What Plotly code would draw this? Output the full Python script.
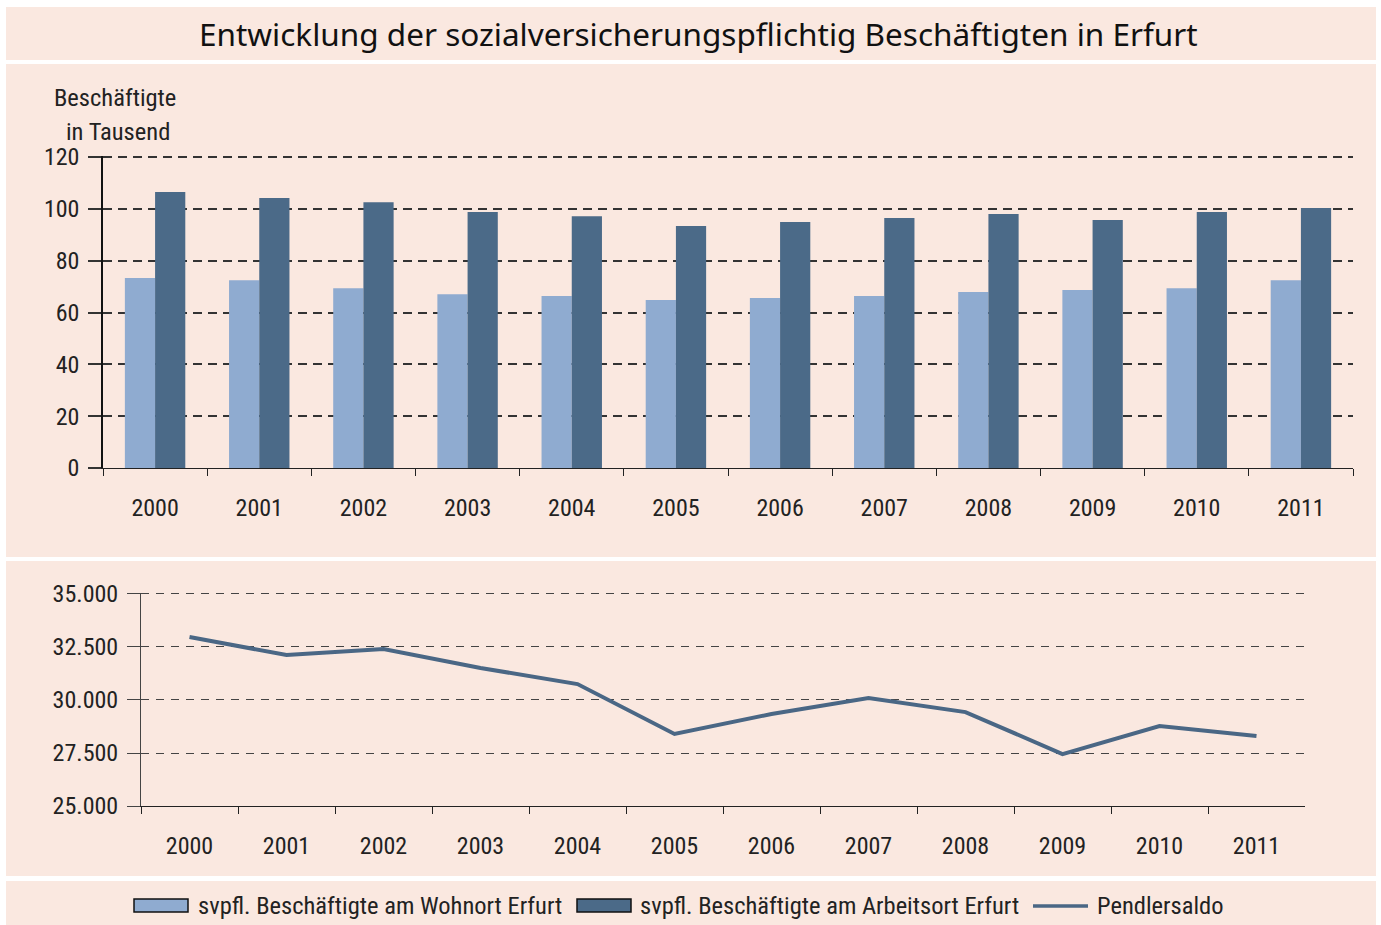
import plotly.graph_objects as go

years = ["2000", "2001", "2002", "2003", "2004", "2005", "2006", "2007", "2008", "2009", "2010", "2011"]
wohnort = [73.3, 72.5, 69.4, 67.1, 66.4, 64.8, 65.6, 66.4, 67.9, 68.7, 69.4, 72.5]
arbeitsort = [106.5, 104.2, 102.6, 98.8, 97.2, 93.4, 94.9, 96.5, 98.0, 95.7, 98.8, 100.3]
pendlersaldo = [32970, 32120, 32400, 31510, 30750, 28400, 29340, 30090, 29430, 27450, 28770, 28300]
legend_names = ["svpfl. Beschäftigte am Wohnort Erfurt", "svpfl. Beschäftigte am Arbeitsort Erfurt", "Pendlersaldo"]

W, H = 1381, 925
PINK = "#FAE8E0"
LIGHT = "#8FABD0"
DARK = "#4B6A88"
LINE = "#4A6785"
FONT = "Liberation Sans Narrow, Roboto Condensed, DejaVu Sans Condensed, Roboto, sans-serif"

def px(x):
    return x / W

def py(y):
    return 1 - y / H

fig = go.Figure()
fig.add_trace(go.Bar(x=years, y=wohnort, name=legend_names[0],
                     marker=dict(color=LIGHT, line=dict(width=0)), xaxis="x", yaxis="y"))
fig.add_trace(go.Bar(x=years, y=arbeitsort, name=legend_names[1],
                     marker=dict(color=DARK, line=dict(width=0)), xaxis="x", yaxis="y"))
fig.add_trace(go.Scatter(x=years, y=pendlersaldo, name=legend_names[2], mode="lines",
                         line=dict(color=LINE, width=4), xaxis="x2", yaxis="y2"))

# background panels
panels = [(6, 7, 1376, 60), (6, 64, 1376, 557), (6, 561, 1376, 876), (6, 881, 1376, 925)]
shapes = []
for x0, y0, x1, y1 in panels:
    shapes.append(dict(type="rect", xref="paper", yref="paper", x0=px(x0), x1=px(x1),
                       y0=py(y1), y1=py(y0), fillcolor=PINK, line=dict(width=0), layer="below"))

# manual legend keys
shapes.append(dict(type="rect", xref="paper", yref="paper", x0=px(134), x1=px(188), y0=py(912), y1=py(899),
                   fillcolor=LIGHT, line=dict(color="#111", width=1.5)))
shapes.append(dict(type="rect", xref="paper", yref="paper", x0=px(577), x1=px(631), y0=py(912), y1=py(899),
                   fillcolor=DARK, line=dict(color="#111", width=1.5)))
shapes.append(dict(type="line", xref="paper", yref="paper", x0=px(1033), x1=px(1088), y0=py(906), y1=py(906),
                   line=dict(color=LINE, width=3.5)))

axis_font = dict(family=FONT, size=24, color="#222")
leg_font = dict(family=FONT, size=24.5, color="#222")

annotations = [
    dict(text="Entwicklung der sozialversicherungspflichtig Beschäftigten in Erfurt",
         xref="paper", yref="paper", x=px(698), y=py(34), xanchor="center", yanchor="middle",
         showarrow=False, font=dict(family="Noto Sans, Open Sans, sans-serif", size=31.5, color="#111")),
    dict(text="Beschäftigte", xref="paper", yref="paper", x=px(115), y=py(97),
         xanchor="center", yanchor="middle", showarrow=False, font=leg_font),
    dict(text="in Tausend", xref="paper", yref="paper", x=px(118), y=py(131),
         xanchor="center", yanchor="middle", showarrow=False, font=leg_font),
]
for name, xs in zip(legend_names, [196, 638, 1095]):
    annotations.append(dict(text=name, xref="paper", yref="paper", x=px(xs), y=py(905),
                            xanchor="left", yanchor="middle", showarrow=False, font=leg_font))

fig.update_layout(
    width=W, height=H, autosize=False,
    margin=dict(l=0, r=0, t=0, b=0, pad=0),
    paper_bgcolor="white", plot_bgcolor="white",
    separators=",.",
    barmode="group", bargap=0.42, bargroupgap=0,
    shapes=shapes,
    showlegend=False,
    xaxis=dict(domain=[px(103), px(1353)], anchor="y", type="category", automargin=False,
               tickson="boundaries", ticks="outside", ticklen=7, tickcolor="#222",
               showline=True, linecolor="#222", linewidth=1, showgrid=False,
               tickfont=axis_font, ticklabelstandoff=18),
    yaxis=dict(domain=[py(468), py(155.5)], anchor="x", range=[0, 120.6], dtick=20, automargin=False,
               showline=True, linecolor="#111", linewidth=1.5,
               ticks="outside", ticklen=13, tickcolor="#333", tickwidth=1.5,
               showgrid=True, gridcolor="#333", griddash="9px,6px", gridwidth=1.5,
               zeroline=False, tickfont=axis_font, ticklabelstandoff=4),
    xaxis2=dict(domain=[px(141), px(1305)], anchor="y2", type="category", automargin=False,
                range=[-0.5, 11.5],
                tickson="boundaries", ticks="outside", ticklen=7, tickcolor="#222",
                showline=True, linecolor="#222", linewidth=1, showgrid=False,
                tickfont=axis_font, ticklabelstandoff=18),
    yaxis2=dict(domain=[py(806), py(592.5)], anchor="x2", range=[25000, 35070], dtick=2500,
                tickformat=",d", automargin=False,
                showline=True, linecolor="#444", linewidth=1,
                ticks="outside", ticklen=13, tickcolor="#444", tickwidth=1.3,
                showgrid=True, gridcolor="#444", griddash="8px,7px", gridwidth=1.3,
                zeroline=False, tickfont=axis_font, ticklabelstandoff=4),
    annotations=annotations,
)

fig.write_html("out.html", config={"displayModeBar": False},
               post_script="document.body.style.margin='0';document.body.style.overflow='hidden';")
